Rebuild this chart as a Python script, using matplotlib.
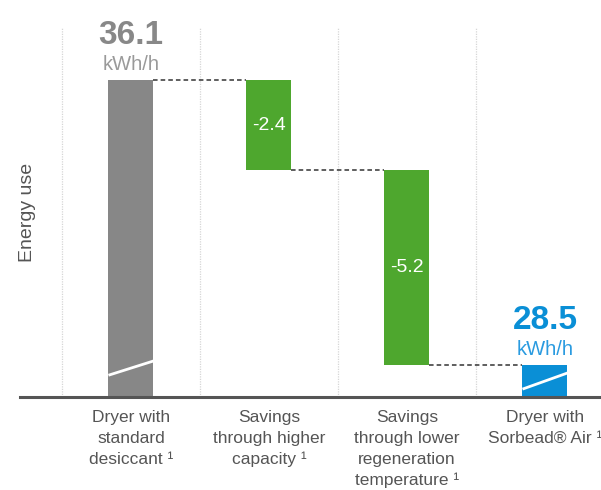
import matplotlib
matplotlib.use("Agg")
import matplotlib.pyplot as plt

plt.rcParams['font.family'] = ['Liberation Sans', 'DejaVu Sans']

# ---------- Data ----------
categories = [
    "Dryer with\nstandard\ndesiccant \u00b9",
    "Savings\nthrough higher\ncapacity \u00b9",
    "Savings\nthrough lower\nregeneration\ntemperature \u00b9",
    "Dryer with\nSorbead\u00ae Air \u00b9",
]
start_value = 36.1
savings = [-2.4, -5.2]
end_value = 28.5
unit = "kWh/h"
y_floor = 27.65   # broken axis: bars start here

# ---------- Styles ----------
GRAY = "#878787"
GREEN = "#4ea72e"
BLUE = "#0a8fd6"
TEXT = "#555555"

fig = plt.figure(figsize=(6.01, 4.90), dpi=100)
ax = fig.add_axes([20 / 601, 93 / 490, 581 / 601, 397 / 490])

bw = 0.326
px = 397 / (38.233 - y_floor)   # pixels per unit (for offsets)

# totals and steps
levels = [start_value]
for s in savings:
    levels.append(levels[-1] + s)

# first bar
ax.bar(0, start_value - y_floor, bottom=y_floor, width=bw, color=GRAY, zorder=2)
# savings bars
for i, s in enumerate(savings):
    top = levels[i]
    ax.bar(i + 1, -s, bottom=top + s, width=bw, color=GREEN, zorder=2)
    ax.text(i + 1, top + s / 2, f"{s:.1f}", color="white", fontsize=14,
            ha="center", va="center", zorder=3)
# last bar
n = len(categories) - 1
ax.bar(n, end_value - y_floor, bottom=y_floor, width=bw, color=BLUE, zorder=2)

# connectors
conn = levels + [end_value]
for i in range(n):
    ax.plot([i + bw / 2, i + 1 - bw / 2], [conn[i], conn[i]], color="#333333",
            lw=1.1, dashes=(3, 2), zorder=1)

# axis-break marks
for xi, (lo, hi) in [(0, (0.58, 0.96)), (n, (0.21, 0.64))]:
    ax.plot([xi - bw / 2, xi + bw / 2], [y_floor + lo, y_floor + hi],
            color="white", lw=2, zorder=3, solid_capstyle="butt")

# value labels
for xi, val, col, col2 in [(0, start_value, "#888888", "#9a9a9a"),
                           (n, end_value, BLUE, "#2a9be0")]:
    ax.annotate(f"{val:.1f}", (xi, val), xytext=(0, 36), textcoords="offset pixels",
                ha="center", va="baseline", fontsize=24, fontweight="bold", color=col)
    ax.annotate(unit, (xi, val), xytext=(0, 10), textcoords="offset pixels",
                ha="center", va="baseline", fontsize=14.5, color=col2)

# grid lines between categories
for g in [i - 0.5 for i in range(len(categories) + 1)]:
    ax.plot([g, g], [y_floor, start_value + 52 / px], color="#d6d6d6", lw=0.9,
            ls=(0, (1, 1)), zorder=0)

ax.set_xlim(-0.804, 3.406)
ax.set_ylim(y_floor, 38.233)

for sp in ["top", "right", "left"]:
    ax.spines[sp].set_visible(False)
ax.spines["bottom"].set_color("#555555")
ax.spines["bottom"].set_linewidth(2.2)
ax.spines["bottom"].set_zorder(4)

ax.set_yticks([])
ax.set_xticks(range(len(categories)))
ax.set_xticklabels(categories, fontsize=12.5, color=TEXT, linespacing=1.5,
                   va="top", ha="center", multialignment="center")
ax.tick_params(axis="x", length=0, pad=9)

fig.text(27 / 601, 1 - 212 / 490, "Energy use", rotation=90, fontsize=14,
         color=TEXT, ha="center", va="center")

fig.savefig("out.png", dpi=100)
